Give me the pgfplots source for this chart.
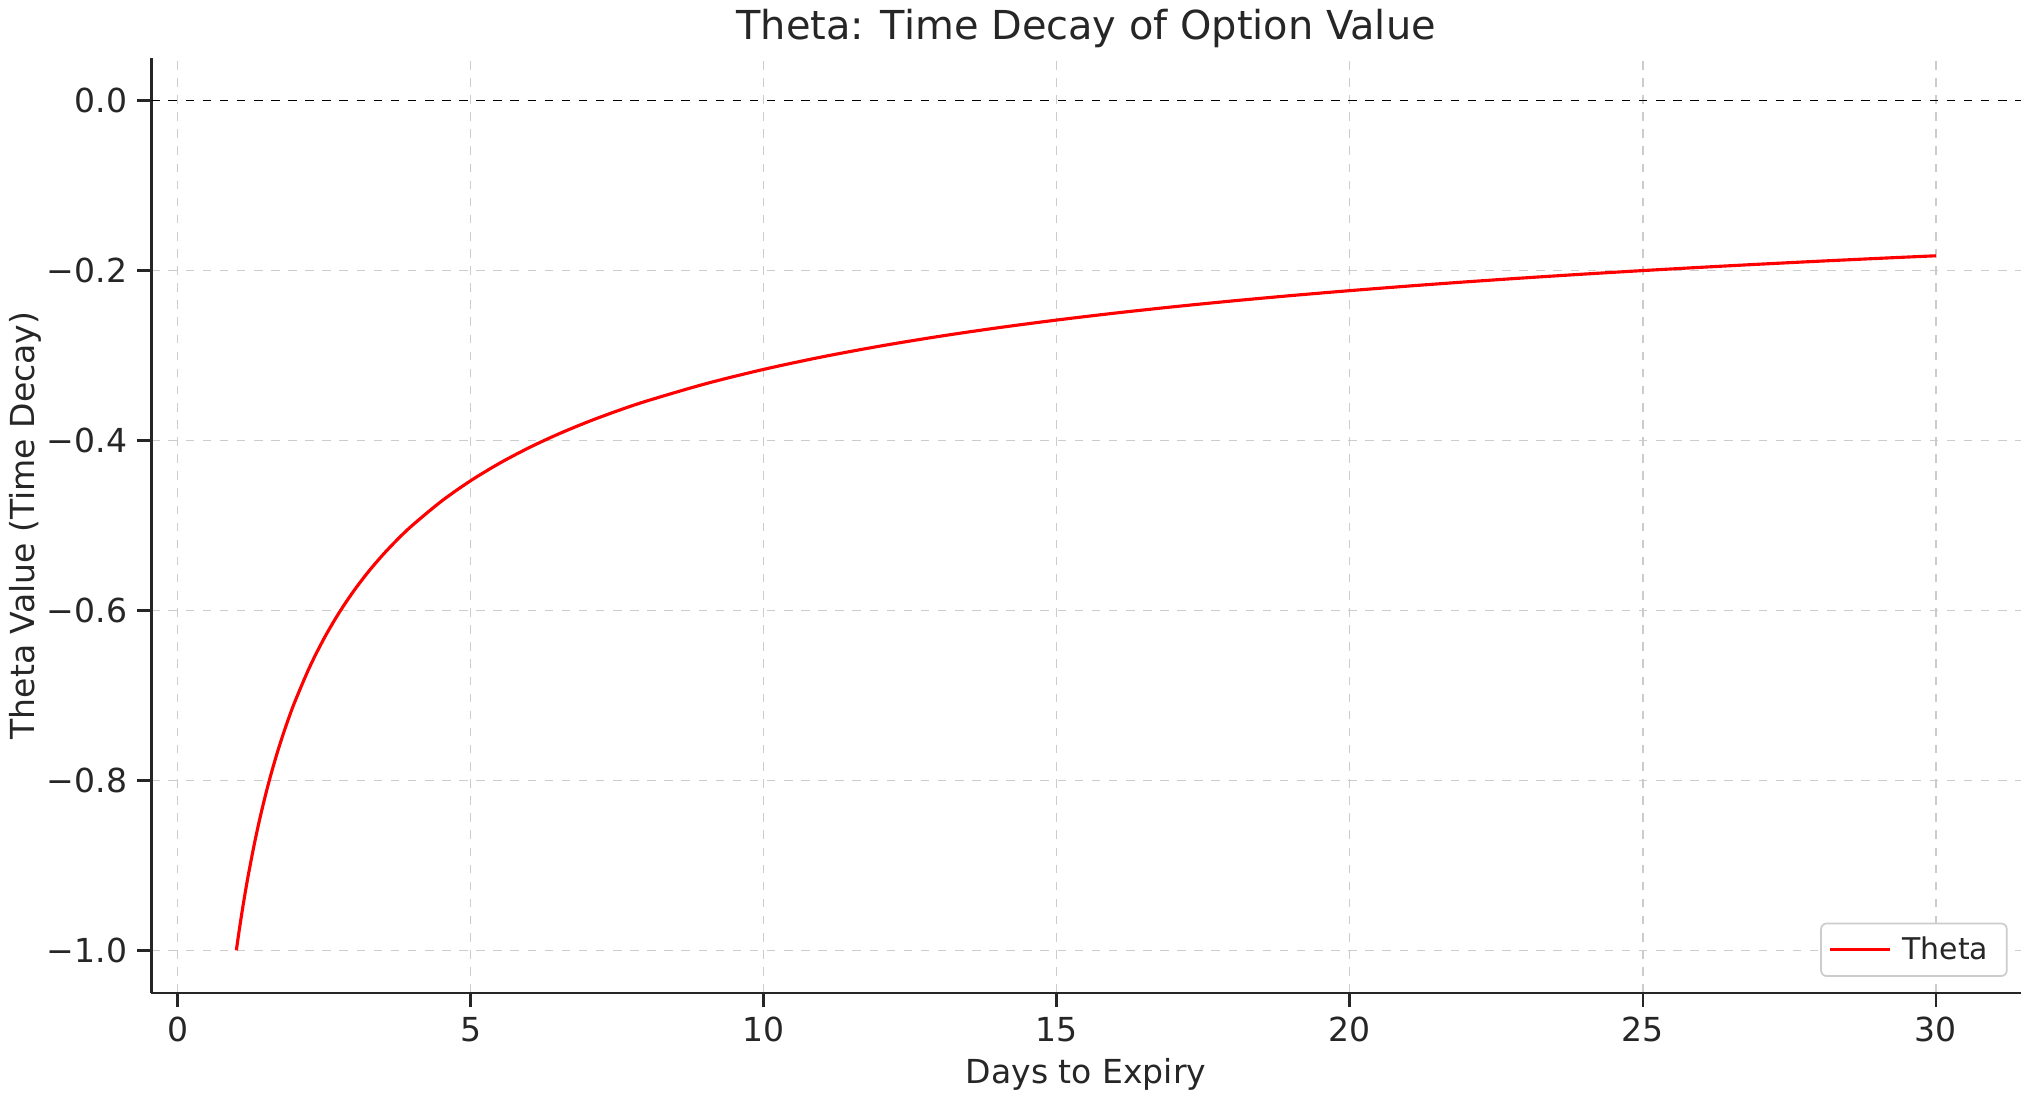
\documentclass[border=0pt]{standalone}
\usepackage{pgfplots}
\pgfplotsset{compat=1.18}
\usepackage{fontspec}
\setmainfont{DejaVu Sans}
\definecolor{txt}{HTML}{262626}
\definecolor{gridc}{HTML}{CCCCCC}

\begin{document}
\begin{tikzpicture}
\begin{axis}[
  scale only axis, width=656pt, height=328pt,
  xmin=-0.45, xmax=31.45, ymin=-1.05, ymax=0.05,
  axis lines*=left, axis line style={txt, line width=0.9pt},
  xtick={0,5,...,30}, ytick={-1,-0.8,-0.6,-0.4,-0.2,0},
  yticklabels={−1.0,−0.8,−0.6,−0.4,−0.2,0.0},
  tick style={txt, line width=0.9pt}, tick align=outside, major tick length=5pt,
  /pgf/number format/assume math mode=true,
  ticklabel style={font=\fontsize{11.6}{14}\selectfont, text=txt},
  grid=major, major grid style={gridc, dashed, line width=0.5pt},
  title={Theta: Time Decay of Option Value},
  title style={font=\fontsize{14}{16}\selectfont, text=txt, yshift=-6pt},
  xlabel={Days to Expiry}, ylabel={Theta Value (Time Decay)},
  label style={font=\fontsize{11.6}{14}\selectfont, text=txt},
  xlabel style={yshift=1pt}, ylabel style={yshift=-5pt},
  legend style={at={(0.993,0.017)}, anchor=south east,
    font=\fontsize{10.5}{12}\selectfont, text=txt, draw=gridc, rounded corners=2pt,
    line width=0.6pt, inner sep=2.5pt, nodes={inner xsep=4pt}},
  legend image code/.code={\draw[#1] (0pt,0pt) -- (21pt,0pt);},
  legend cell align=left,
]
\addplot[black, dashed, line width=0.5pt, forget plot] coordinates {(-0.45,0) (31.45,0)};
\addplot[red, line width=1.1pt, smooth] coordinates {
(1,-1) (1.05,-0.97590) (1.1,-0.95346) (1.15,-0.93250) (1.2,-0.91287) (1.3,-0.87706)
(1.4,-0.84515) (1.5,-0.81650) (1.6,-0.79057) (1.7,-0.76696) (1.8,-0.74536) (1.9,-0.72548)
(2,-0.70711) (2.25,-0.66667) (2.5,-0.63246) (2.75,-0.60302) (3,-0.57735) (3.25,-0.55470) (3.5,-0.53452)
(3.75,-0.51640) (4,-0.5) (4.5,-0.47140) (5,-0.44721) (5.5,-0.42640) (6,-0.40825) (6.5,-0.39223) (7,-0.37796)
(7.5,-0.36515) (8,-0.35355) (9,-0.33333) (10,-0.31623) (11,-0.30151) (12,-0.28868) (13,-0.27735)
(14,-0.26726) (15,-0.25820) (16,-0.25) (17,-0.24254) (18,-0.23570) (19,-0.22942)
(20,-0.22361) (21,-0.21822) (22,-0.21320) (23,-0.20851) (24,-0.20412) (25,-0.2)
(26,-0.19612) (27,-0.19245) (28,-0.18898) (29,-0.18570) (30,-0.18257)};
\addlegendentry{Theta}
\end{axis}
\path ([xshift=5pt]current axis.east);
\end{tikzpicture}
\end{document}
